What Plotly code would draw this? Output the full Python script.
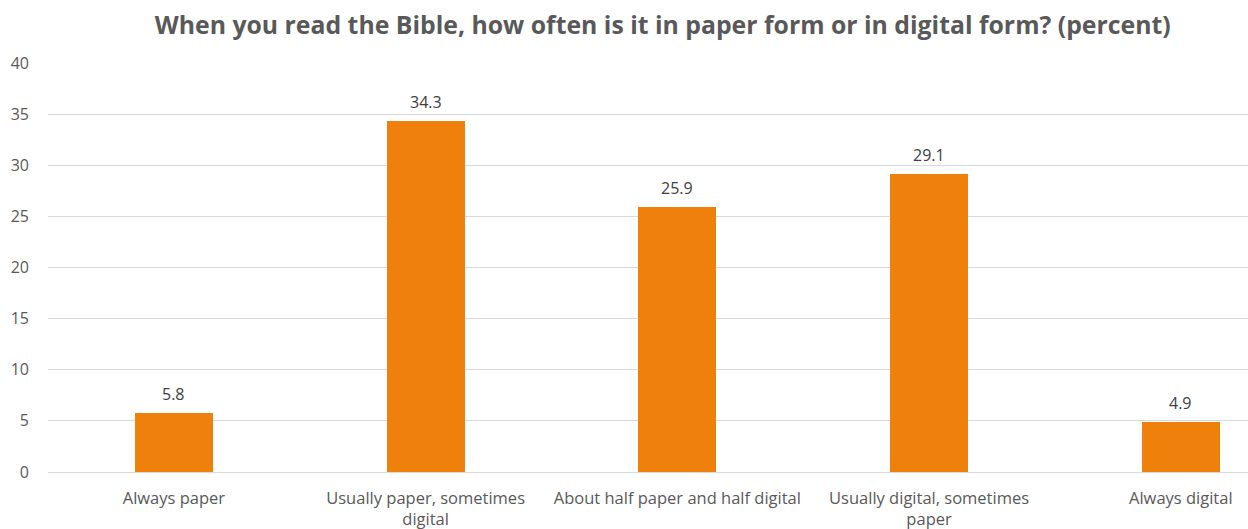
import plotly.graph_objects as go

categories = [
    "Always paper",
    "Usually paper, sometimes<br>digital",
    "About half paper and half digital",
    "Usually digital, sometimes<br>paper",
    "Always digital",
]
percent = [5.8, 34.3, 25.9, 29.1, 4.9]
y_ticks = [0, 5, 10, 15, 20, 25, 30, 35, 40]

FONT = "Open Sans, Liberation Sans, sans-serif"
x_pos = list(range(len(categories)))

fig = go.Figure(
    go.Bar(
        x=x_pos,
        y=percent,
        width=0.31,
        marker=dict(color="#EF800C", line=dict(width=0)),
    )
)

# value labels above each bar
for xi, v in zip(x_pos, percent):
    fig.add_annotation(
        x=xi,
        y=v,
        text=f"{v:.1f}",
        showarrow=False,
        yanchor="bottom",
        yshift=6,
        font=dict(family=FONT, size=16, color="#404040"),
    )

fig.update_layout(
    width=1248,
    height=529,
    margin=dict(l=48, r=0, t=63, b=57),
    paper_bgcolor="white",
    plot_bgcolor="white",
    showlegend=False,
    title=dict(
        text="<b>When you read the Bible, how often is it in paper form or in digital form? (percent)</b>",
        x=0.531,
        xanchor="center",
        y=0.953,
        yanchor="middle",
        font=dict(family=FONT, size=24.8, color="#595959"),
    ),
    xaxis=dict(
        range=[-0.5, 4.267],
        tickmode="array",
        tickvals=x_pos,
        ticktext=categories,
        showgrid=False,
        zeroline=False,
        showline=False,
        ticks="",
        ticklabelstandoff=14,
        tickfont=dict(family=FONT, size=16.5, color="#595959"),
    ),
    yaxis=dict(
        range=[0, 40],
        tickmode="array",
        tickvals=y_ticks,
        showgrid=True,
        gridcolor="#D9D9D9",
        gridwidth=1,
        zeroline=True,
        zerolinecolor="#D9D9D9",
        zerolinewidth=1,
        showline=False,
        ticks="",
        ticklabelstandoff=18,
        tickfont=dict(family=FONT, size=16, color="#595959"),
    ),
    bargap=0,
)

fig.write_html("out.html")
